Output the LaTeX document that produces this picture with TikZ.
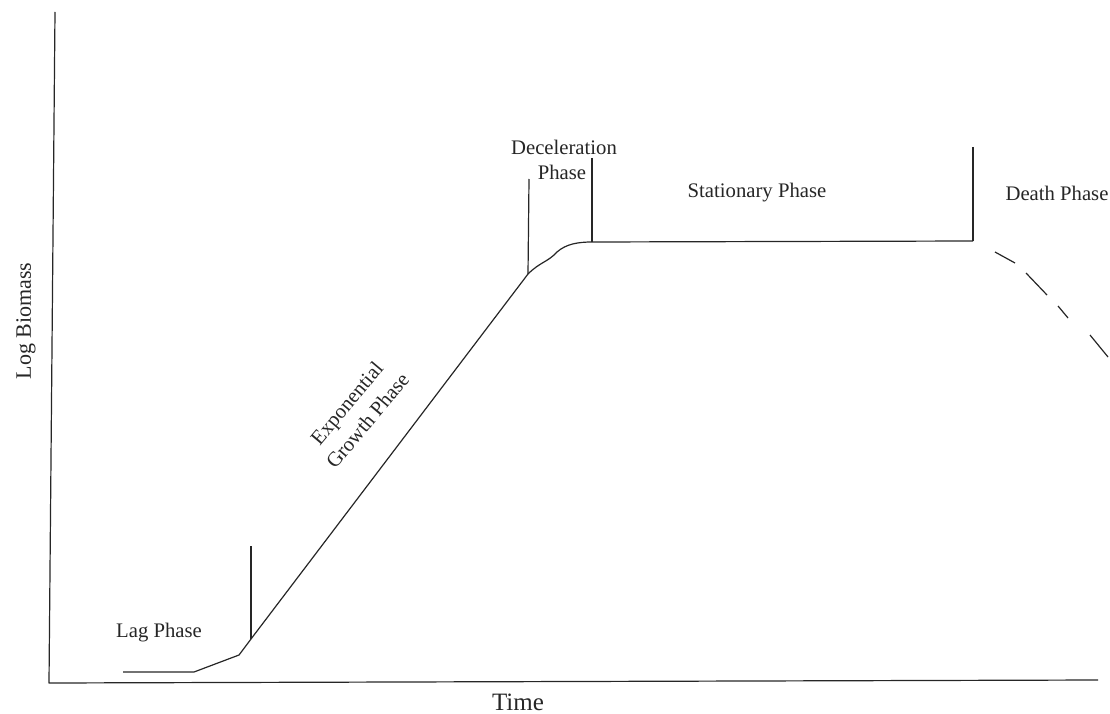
\documentclass[tikz,border=0pt]{standalone}
\usepackage{fontspec}
\setmainfont{Liberation Serif}
\begin{document}
\begin{tikzpicture}[x=1pt,y=-1pt,
  ln/.style={draw=black!85,line width=1.2pt,line join=round},
  lbl/.style={inner sep=0pt,text=black!85,font=\fontsize{20.7}{27}\selectfont},
  axlbl/.style={inner sep=0pt,text=black!85,font=\fontsize{22}{26}\selectfont}]
\useasboundingbox (0,0) rectangle (1110,714);
% axes
\coordinate (ytop) at (55,12);
\coordinate (origin) at (49,683);
\coordinate (xend) at (1098,680);
\draw[ln] (ytop) -- (origin) -- (xend);
% growth curve
\coordinate (c0) at (123,672);
\coordinate (c1) at (194,672);
\coordinate (c2) at (239,655);
\coordinate (c3) at (251,639);
\coordinate (c4) at (528,274);
\coordinate (c5) at (592,242);
\coordinate (c6) at (973,241);
\draw[ln] (c0) -- (c1) -- (c2) -- (c3) -- (c4)
  .. controls (540,262) and (548,262) .. (557,252)
  .. controls (566,244) and (578,242) .. (c5) -- (c6);
% phase dividers
\coordinate (v1t) at (251,546);
\coordinate (v2t) at (529,179);
\coordinate (v3t) at (592,158);
\coordinate (v4t) at (973,147);
\draw[ln] (v1t) -- (c3);
\draw[ln] (v2t) -- (c4);
\draw[ln] (v3t) -- (c5);
\draw[ln] (v4t) -- (c6);
% death phase dashes
\coordinate (d1a) at (995,252); \coordinate (d1b) at (1015,263);
\coordinate (d2a) at (1026,273); \coordinate (d2b) at (1047,295);
\coordinate (d3a) at (1058,306); \coordinate (d3b) at (1068,318);
\coordinate (d4a) at (1090,335); \coordinate (d4b) at (1108,357);
\draw[ln] (d1a) -- (d1b);
\draw[ln] (d2a) -- (d2b);
\draw[ln] (d3a) -- (d3b);
\draw[ln] (d4a) -- (d4b);
% labels
\node[lbl] (lag) at (159,633) {Lag Phase};
\node[lbl,rotate=50,align=center] (exp) at (357,412) {Exponential\\Growth Phase};
\node[lbl] (dec1) at (564,147) {Deceleration};
\node[lbl] (dec2) at (562,172) {Phase};
\node[lbl] (stat) at (757,193) {Stationary Phase};
\node[lbl] (death) at (1057,193) {Death Phase};
\node[axlbl,rotate=90] (ylab) at (26,321) {Log Biomass};
\node[lbl,font=\fontsize{25}{30}\selectfont] (xlab) at (518,702) {Time};
\end{tikzpicture}
\end{document}
